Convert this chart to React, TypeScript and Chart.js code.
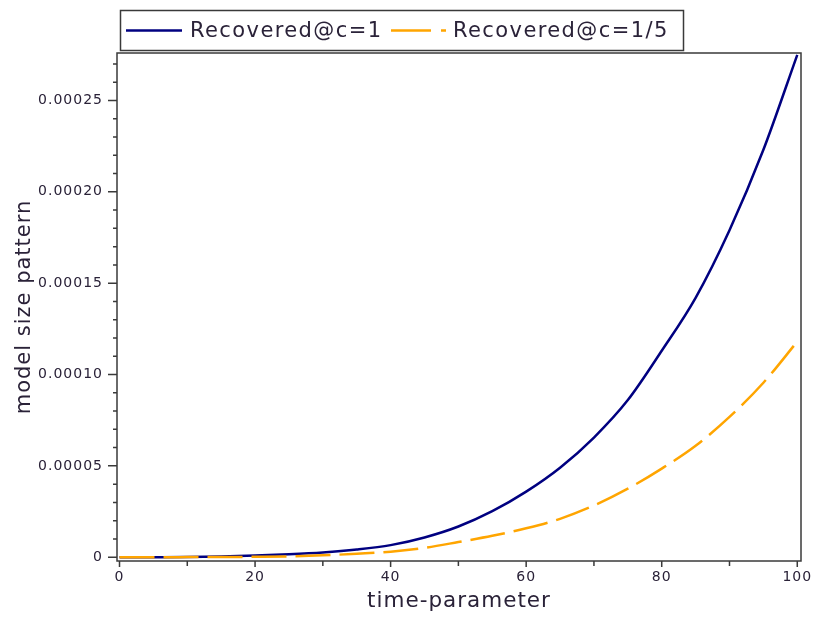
import React, { useEffect, useRef } from "react";
import { Chart, registerables } from "chart.js";

Chart.register(...registerables);

// ---- data ----
const timeValues = [0, 5, 10, 15, 20, 25, 30, 35, 40, 45, 50, 55, 60, 65, 70, 75, 80, 85, 90, 95, 100];
const recoveredC1 = [
  0, 0.00000002, 0.0000001, 0.0000004, 0.0000009, 0.0000016, 0.0000026, 0.0000042, 0.0000066,
  0.0000108, 0.0000168, 0.0000252, 0.0000359, 0.000049, 0.0000655, 0.000086, 0.000113, 0.000142,
  0.000179, 0.000223, 0.000275,
];
const recoveredC15 = [
  0, 0.00000001, 0.00000005, 0.0000001, 0.0000002, 0.0000004, 0.000001, 0.0000019, 0.000003,
  0.0000051, 0.0000083, 0.0000117, 0.0000158, 0.000021, 0.0000283, 0.0000375, 0.0000485, 0.000061,
  0.0000768, 0.0000955, 0.000118,
];
const seriesLabels = ["Recovered@c=1", "Recovered@c=1/5"];
const xTickValues = [0, 20, 40, 60, 80, 100];
const yTickValues = [0, 0.00005, 0.0001, 0.00015, 0.0002, 0.00025];
const yTickLabels = ["0", "0.00005", "0.00010", "0.00015", "0.00020", "0.00025"];
const xTitle = "time-parameter";
const yTitle = "model size pattern";

const FONT = "'DejaVu Sans', sans-serif";
const TEXT = "#2a2238";
const FRAME = "#3a3a3a";
const BLUE = "#000080";
const ORANGE = "#ffa500";

const framePlugin = {
  id: "framePlugin",
  beforeDraw(chart: any) {
    chart.ctx.letterSpacing = "1px";
  },
  afterDraw(chart: any) {
    const ctx = chart.ctx;
    const ca = chart.chartArea;
    const xs = chart.scales.x;
    const ys = chart.scales.y;
    ctx.save();
    ctx.letterSpacing = "0px";
    ctx.strokeStyle = FRAME;
    ctx.lineWidth = 1.5;
    ctx.setLineDash([]);
    ctx.strokeRect(ca.left, ca.top, ca.right - ca.left, ca.bottom - ca.top);
    // x ticks
    ctx.beginPath();
    for (let v = 0; v <= 100; v += 10) {
      const px = xs.getPixelForValue(v);
      const len = v % 20 === 0 ? 6 : 5;
      ctx.moveTo(px, ca.bottom);
      ctx.lineTo(px, ca.bottom + len);
    }
    // y ticks
    for (let i = 0; i <= 27; i++) {
      const v = i * 0.00001;
      const py = ys.getPixelForValue(v);
      const len = i % 5 === 0 ? 9 : 4;
      ctx.moveTo(ca.left - len, py);
      ctx.lineTo(ca.left, py);
    }
    ctx.stroke();

    // legend
    const lx = 120, ly = 10, lw = 563, lh = 40;
    ctx.lineWidth = 1.5;
    ctx.strokeStyle = FRAME;
    ctx.strokeRect(lx + 0.5, ly + 0.5, lw, lh);
    const cy = ly + lh / 2 + 0.5;
    ctx.font = `21px ${FONT}`;
    ctx.letterSpacing = "1.4px";
    ctx.fillStyle = TEXT;
    ctx.textBaseline = "middle";
    ctx.textAlign = "left";
    const ds = chart.data.datasets;
    // series 1
    ctx.strokeStyle = ds[0].borderColor;
    ctx.lineWidth = 2.5;
    ctx.beginPath();
    ctx.moveTo(126, cy);
    ctx.lineTo(182, cy);
    ctx.stroke();
    ctx.fillText(ds[0].label, 190, cy + 1);
    // series 2
    ctx.strokeStyle = ds[1].borderColor;
    ctx.beginPath();
    ctx.moveTo(391, cy);
    ctx.lineTo(431, cy);
    ctx.moveTo(441, cy);
    ctx.lineTo(446, cy);
    ctx.stroke();
    ctx.fillText(ds[1].label, 453, cy + 1);
    ctx.restore();
  },
};

export default function App() {
  const ref = useRef<HTMLCanvasElement | null>(null);
  useEffect(() => {
    if (!ref.current) return;
    const chart = new Chart(ref.current, {
      type: "line",
      data: {
        datasets: [
          {
            label: seriesLabels[0],
            data: timeValues.map((t, i) => ({ x: t, y: recoveredC1[i] })),
            borderColor: BLUE,
            borderWidth: 2.5,
            pointRadius: 0,
            cubicInterpolationMode: "monotone",
            fill: false,
            order: 2,
          },
          {
            label: seriesLabels[1],
            data: timeValues.map((t, i) => ({ x: t, y: recoveredC15[i] })),
            borderColor: ORANGE,
            borderWidth: 2.5,
            borderDash: [35, 9],
            pointRadius: 0,
            cubicInterpolationMode: "monotone",
            fill: false,
            order: 1,
          },
        ],
      },
      options: {
        responsive: false,
        animation: false,
        devicePixelRatio: 1,
        layout: { padding: { top: 53, right: 12, bottom: 0, left: 0 } },
        plugins: { legend: { display: false }, tooltip: { enabled: false } },
        scales: {
          x: {
            type: "linear",
            min: -0.37,
            max: 100.55,
            grid: { display: false, drawTicks: false },
            border: { display: false },
            afterBuildTicks: (s: any) => {
              s.ticks = xTickValues.map((v) => ({ value: v }));
            },
            afterFit: (s: any) => {
              s.height = 58;
              s.paddingLeft = 0;
              s.paddingRight = 0;
            },
            ticks: {
              autoSkip: false,
              maxRotation: 0,
              padding: 8,
              color: TEXT,
              font: { family: FONT, size: 14 },
              callback: (v: any) => String(v),
            },
            title: {
              display: true,
              text: xTitle,
              color: TEXT,
              font: { family: FONT, size: 21.5 },
              padding: { top: 0, bottom: 5 },
            },
          },
          y: {
            type: "linear",
            min: -0.00000208,
            max: 0.000276,
            grid: { display: false, drawTicks: false },
            border: { display: false },
            afterBuildTicks: (s: any) => {
              s.ticks = yTickValues.map((v) => ({ value: v }));
            },
            afterFit: (s: any) => {
              s.width = 117;
              s.paddingTop = 0;
              s.paddingBottom = 0;
            },
            ticks: {
              autoSkip: false,
              padding: 14,
              color: TEXT,
              font: { family: FONT, size: 14 },
              callback: (v: any) => {
                const i = yTickValues.indexOf(v);
                return i >= 0 ? yTickLabels[i] : "";
              },
            },
            title: {
              display: true,
              text: yTitle,
              color: TEXT,
              font: { family: FONT, size: 21 },
              padding: { top: 12, bottom: 0 },
            },
          },
        },
      },
      plugins: [framePlugin],
    });
    return () => chart.destroy();
  }, []);
  return (
    <div style={{ position: "fixed", left: 0, top: 0, width: 813, height: 619, background: "#fff" }}>
      <canvas ref={ref} width={813} height={619} />
    </div>
  );
}
